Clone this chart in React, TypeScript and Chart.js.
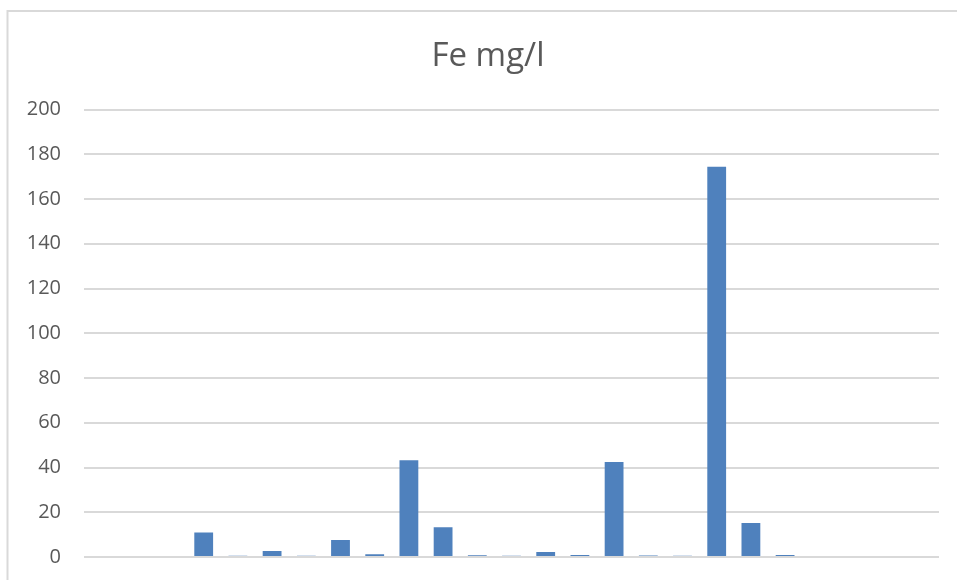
import React, { useEffect, useRef } from "react";
import { Chart, registerables } from "chart.js";

Chart.register(...registerables);

// Sample points (x axis carries no visible labels)
const samples: string[] = [
  "1", "2", "3", "4", "5", "6", "7", "8", "9", "10", "11", "12", "13",
  "14", "15", "16", "17", "18", "19", "20", "21", "22", "23", "24", "25",
];

// Iron concentration, mg/l (null = no measurement)
const feValues: (number | null)[] = [
  null, null, null, 11.0, 0.6, 2.7, 0.6, 7.6, 1.2, 43.2, 13.3, 0.8, 0.6,
  2.2, 0.9, 42.5, 0.7, 0.6, 174.4, 15.2, 0.9, null, null, null, null,
];

const yTicks: number[] = [0, 20, 40, 60, 80, 100, 120, 140, 160, 180, 200];

const chartTitle = "Fe mg/l";

// Light frame along the top and left edges, white background, and the title
const framePlugin = {
  id: "frame",
  beforeDraw(chart: Chart) {
    const ctx = chart.ctx;
    ctx.save();
    ctx.fillStyle = "#ffffff";
    ctx.fillRect(0, 0, chart.width, chart.height);
    ctx.strokeStyle = "#d9d9d9";
    ctx.lineWidth = 2;
    ctx.beginPath();
    ctx.moveTo(chart.width, 11);
    ctx.lineTo(7.5, 11);
    ctx.lineTo(7.5, chart.height);
    ctx.stroke();
    ctx.restore();
  },
  afterDraw(chart: Chart) {
    const ctx = chart.ctx;
    ctx.save();
    ctx.fillStyle = "#595959";
    ctx.font = "33px 'Open Sans', sans-serif";
    ctx.textAlign = "center";
    ctx.textBaseline = "alphabetic";
    ctx.fillText(chartTitle, 488, 66);
    ctx.restore();
  },
};

export default function App() {
  const canvasRef = useRef<HTMLCanvasElement | null>(null);

  useEffect(() => {
    document.body.style.margin = "0";
    const canvas = canvasRef.current;
    if (!canvas) return;
    const chart = new Chart(canvas, {
      type: "bar",
      data: {
        labels: samples,
        datasets: [
          {
            label: chartTitle,
            data: feValues,
            backgroundColor: "#4f81bd",
            borderWidth: 0,
            categoryPercentage: 1,
            barPercentage: 0.55,
          },
        ],
      },
      options: {
        responsive: false,
        animation: false,
        devicePixelRatio: 1,
        layout: { padding: { left: 0, right: 18, top: 109.5, bottom: 23 } },
        plugins: {
          legend: { display: false },
          tooltip: { enabled: false },
          title: { display: false },
        },
        scales: {
          x: { display: false },
          y: {
            min: 0,
            max: 200,
            afterBuildTicks(scale: any) {
              scale.ticks = yTicks.map((v) => ({ value: v }));
            },
            afterFit(scale: any) {
              scale.width = 84;
              scale.paddingTop = 0;
              scale.paddingBottom = 0;
            },
            border: { display: false },
            grid: { color: "#d9d9d9", lineWidth: 2, drawTicks: false },
            ticks: {
              color: "#595959",
              padding: 23,
              font: { family: "'Open Sans', sans-serif", size: 20 },
            },
          },
        },
      },
      plugins: [framePlugin],
    });
    return () => chart.destroy();
  }, []);

  return (
    <div style={{ width: 957, height: 580 }}>
      <canvas ref={canvasRef} width={957} height={580} />
    </div>
  );
}
